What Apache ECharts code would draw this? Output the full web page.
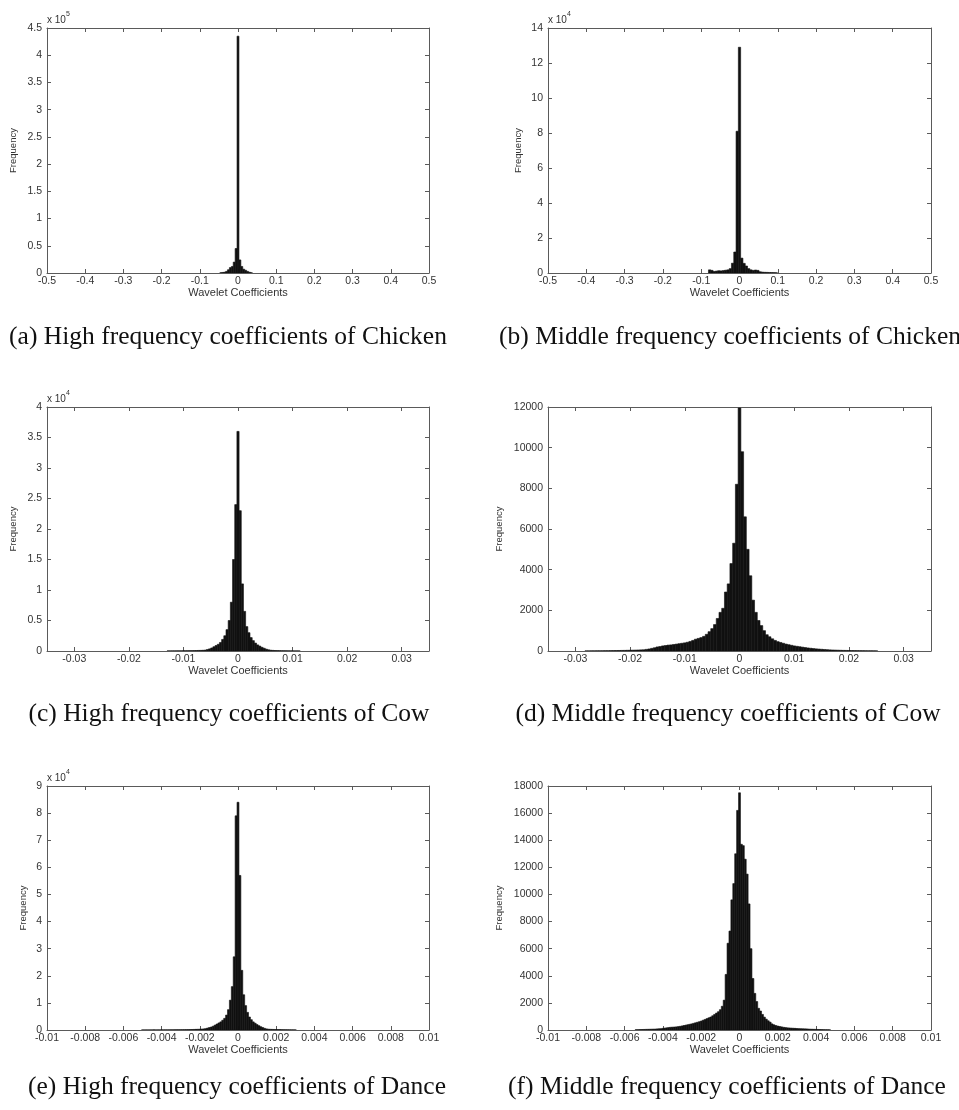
<!DOCTYPE html>
<html>
<head>
<meta charset="utf-8">
<title>Wavelet coefficient histograms</title>
<script src="https://cdn.jsdelivr.net/npm/echarts@6/dist/echarts.min.js"></script>
<style>
  html, body { margin: 0; padding: 0; background: #ffffff; }
  #chart { width: 959px; height: 1110px; }
</style>
</head>
<body>
<div id="chart"></div>
<script>
// ---- Tick values ----
const xTicksChicken = [-0.5, -0.4, -0.3, -0.2, -0.1, 0, 0.1, 0.2, 0.3, 0.4, 0.5];
const xTicksCow = [-0.03, -0.02, -0.01, 0, 0.01, 0.02, 0.03];
const xTicksDance = [-0.01, -0.008, -0.006, -0.004, -0.002, 0, 0.002, 0.004, 0.006, 0.008, 0.01];

const yTicksChickenHigh = [0, 0.5, 1, 1.5, 2, 2.5, 3, 3.5, 4, 4.5];   // x 10^5
const yTicksChickenMid = [0, 2, 4, 6, 8, 10, 12, 14];                  // x 10^4
const yTicksCowHigh = [0, 0.5, 1, 1.5, 2, 2.5, 3, 3.5, 4];             // x 10^4
const yTicksCowMid = [0, 2000, 4000, 6000, 8000, 10000, 12000];
const yTicksDanceHigh = [0, 1, 2, 3, 4, 5, 6, 7, 8, 9];                // x 10^4
const yTicksDanceMid = [0, 2000, 4000, 6000, 8000, 10000, 12000, 14000, 16000, 18000];

// ---- Histogram counts (first bin centre, bin width, counts per bin) ----
// (a) Chicken, high frequency
const chickenHighStart = -0.045;
const chickenHighBin = 0.005;
const chickenHighCounts = [500, 1000, 1500, 3000, 6000, 10000, 12000, 20000, 45000,
  435000, 24000, 12000, 7000, 5000, 3000, 1500, 500];

// (b) Chicken, middle frequency
const chickenMidStart = -0.078;
const chickenMidBin = 0.006;
const chickenMidCounts = [1800, 1500, 900, 1100, 1300, 1200, 1400, 1600, 1800, 2500, 5600, 12000, 81000,
  129000, 8500, 5500, 4000, 2500, 1800, 1500, 1700, 1500, 700, 500, 400, 350, 300, 250, 200, 150];

// (c) Cow, high frequency
const cowHighStart = -0.0128;
const cowHighBin = 0.0004;
const cowHighCounts = [20, 20, 25, 25, 30, 30, 35, 40, 45, 50, 55, 60, 70, 80, 90, 100,
  120, 150, 250, 350, 500, 700, 900, 1100, 1400, 1900, 2500, 3500, 5000, 8000, 15000, 24000,
  36000,
  23000, 11000, 6500, 4000, 3000, 2200, 1700, 1300, 1000, 800, 600, 450, 300, 200,
  130, 100, 80, 70, 60, 50, 45, 40, 35, 30, 25, 20, 20, 15];

// (d) Cow, middle frequency
const cowMidStart = -0.028;
const cowMidBin = 0.0005;
const cowMidCounts = [5, 5, 8, 8, 10, 10, 12, 15, 15, 18, 20, 22, 25, 28, 30, 35, 38, 42, 46, 50, 55,
  60, 80, 100, 130, 160, 200, 220, 250, 270, 290, 300, 320, 340, 360, 380, 400, 430, 470, 520, 580,
  620, 660, 720, 820, 950, 1100, 1300, 1600, 1900, 2100, 2900, 3300, 4300, 5300, 8200,
  11950,
  9800, 6600, 5000, 3700, 2500, 1900, 1500, 1250, 1000, 800, 700, 600, 520, 460, 420, 380, 340,
  310, 280, 250, 230, 210, 190, 170, 150, 135, 120, 105, 95, 85, 75, 65, 55, 50, 45, 40, 35, 30,
  28, 25, 22, 20, 18, 16, 14, 12, 10, 10, 8, 6];

// (e) Dance, high frequency
const danceHighStart = -0.005;
const danceHighBin = 0.0001;
const danceHighCounts = [30, 30, 40, 30, 40, 40, 50, 40, 50, 50, 60, 60, 70, 60, 70, 80, 80, 90,
  100, 100, 110, 120, 130, 140, 150, 170, 190, 210, 240, 270, 300, 350, 400,
  500, 700, 900, 1100, 1400, 1800, 2200, 2600, 3000, 3600, 4300, 5500, 7500, 11000, 16000, 27000, 79000,
  84000,
  57000, 22000, 13000, 9000, 6500, 4800, 3800, 3000, 2500, 2000, 1600, 1200, 900, 600, 400, 300, 250,
  220, 200, 180, 160, 140, 120, 110, 100, 90, 80, 70, 60, 50];

// (f) Dance, middle frequency
const danceMidStart = -0.0054;
const danceMidBin = 0.0001;
const danceMidCounts = [20, 25, 30, 35, 40, 45, 50, 55, 60, 65, 70, 80, 90, 100, 120, 140, 160, 180,
  200, 210, 220, 230, 250, 270,
  300, 330, 360, 390, 420, 450, 490, 530, 570, 610, 660, 720, 780, 840, 900, 960, 1050, 1150,
  1250, 1350, 1500, 1750, 2200, 4100, 6400, 7300, 9600, 10800, 13000, 16200,
  17500,
  13700, 13600, 12600, 11500, 9300, 6000, 3800, 2700, 2100, 1600, 1400, 1150, 950, 800, 680, 580,
  450, 380, 330, 290, 260, 230, 200, 180, 160, 150, 140, 130, 120, 110, 100, 95, 90, 85, 80, 70,
  60, 55, 50, 45, 40, 35, 30, 25, 20, 20, 15];

// ---- Panel layout ----
const panels = [
  { grid: { left: 47, top: 28, width: 382, height: 245 }, range: [-0.5, 0.5], xTicks: xTicksChicken,
    yTicks: yTicksChickenHigh, yScale: 1e5, exp: '5', yNameGap: 34,
    start: chickenHighStart, bin: chickenHighBin, counts: chickenHighCounts,
    caption: '(a) High frequency coefficients of Chicken', capX: 228, capY: 337 },
  { grid: { left: 548, top: 28, width: 383, height: 245 }, range: [-0.5, 0.5], xTicks: xTicksChicken,
    yTicks: yTicksChickenMid, yScale: 1e4, exp: '4', yNameGap: 30,
    start: chickenMidStart, bin: chickenMidBin, counts: chickenMidCounts,
    caption: '(b) Middle frequency coefficients of Chicken', capX: 730, capY: 337 },
  { grid: { left: 47, top: 407, width: 382, height: 244 }, range: [-0.035, 0.035], xTicks: xTicksCow,
    yTicks: yTicksCowHigh, yScale: 1e4, exp: '4', yNameGap: 34,
    start: cowHighStart, bin: cowHighBin, counts: cowHighCounts,
    caption: '(c) High frequency coefficients of Cow', capX: 229, capY: 714 },
  { grid: { left: 548, top: 407, width: 383, height: 244 }, range: [-0.035, 0.035], xTicks: xTicksCow,
    yTicks: yTicksCowMid, yScale: 1, exp: null, yNameGap: 49,
    start: cowMidStart, bin: cowMidBin, counts: cowMidCounts,
    caption: '(d) Middle frequency coefficients of Cow', capX: 728, capY: 714 },
  { grid: { left: 47, top: 786, width: 382, height: 244 }, range: [-0.01, 0.01], xTicks: xTicksDance,
    yTicks: yTicksDanceHigh, yScale: 1e4, exp: '4', yNameGap: 24,
    start: danceHighStart, bin: danceHighBin, counts: danceHighCounts,
    caption: '(e) High frequency coefficients of Dance', capX: 237, capY: 1087 },
  { grid: { left: 548, top: 786, width: 383, height: 244 }, range: [-0.01, 0.01], xTicks: xTicksDance,
    yTicks: yTicksDanceMid, yScale: 1, exp: null, yNameGap: 49,
    start: danceMidStart, bin: danceMidBin, counts: danceMidCounts,
    caption: '(f) Middle frequency coefficients of Dance', capX: 727, capY: 1087 }
];

const FRAME = '#5a5a5a';
const LABEL = '#333333';
const SANS = '"Liberation Sans", Arial, sans-serif';

function fmt(v) {
  return String(Math.round(v * 1e6) / 1e6);
}

const grids = [], xAxes = [], yAxes = [], series = [], graphics = [];

panels.forEach((p, i) => {
  grids.push(Object.assign({ containLabel: false }, p.grid));
  const yMax = p.yTicks[p.yTicks.length - 1] * p.yScale;
  const yVals = p.yTicks.map(t => t * p.yScale);
  const tickStyle = { show: true, inside: true, length: 4, lineStyle: { color: FRAME, width: 1 } };
  const lineStyle = { show: true, onZero: false, lineStyle: { color: FRAME, width: 1 } };

  // bottom x axis (labels) and top x axis (frame + ticks)
  xAxes.push({
    type: 'value', gridIndex: i, position: 'bottom', min: p.range[0], max: p.range[1],
    axisLine: lineStyle,
    axisTick: Object.assign({ customValues: p.xTicks }, tickStyle),
    axisLabel: { customValues: p.xTicks, formatter: v => fmt(v), color: LABEL, fontFamily: SANS,
      fontSize: 10.5, margin: 3, showMinLabel: true, showMaxLabel: true, hideOverlap: false },
    splitLine: { show: false },
    name: 'Wavelet Coefficients', nameLocation: 'middle', nameGap: 14,
    nameTextStyle: { color: LABEL, fontFamily: SANS, fontSize: 11 }
  });
  xAxes.push({
    type: 'value', gridIndex: i, position: 'top', min: p.range[0], max: p.range[1],
    axisLine: lineStyle,
    axisTick: Object.assign({ customValues: p.xTicks }, tickStyle),
    axisLabel: { show: false }, splitLine: { show: false }
  });

  // left y axis (labels) and right y axis (frame + ticks)
  yAxes.push({
    type: 'value', gridIndex: i, position: 'left', min: 0, max: yMax,
    axisLine: lineStyle,
    axisTick: Object.assign({ customValues: yVals }, tickStyle),
    axisLabel: { customValues: yVals, formatter: v => fmt(v / p.yScale), color: LABEL, fontFamily: SANS,
      fontSize: 10.5, margin: 5, showMinLabel: true, showMaxLabel: true, hideOverlap: false },
    splitLine: { show: false }
  });
  yAxes.push({
    type: 'value', gridIndex: i, position: 'right', min: 0, max: yMax,
    axisLine: lineStyle,
    axisTick: Object.assign({ customValues: yVals }, tickStyle),
    axisLabel: { show: false }, splitLine: { show: false }
  });

  // "Frequency" label, centred at a fixed distance left of the plot
  graphics.push({
    type: 'text', rotation: Math.PI / 2,
    x: p.grid.left - p.yNameGap, y: p.grid.top + p.grid.height / 2,
    style: { text: 'Frequency', font: '9.5px ' + SANS, fill: LABEL, align: 'center', verticalAlign: 'middle' }
  });

  // exponent marker above the y axis
  if (p.exp) {
    graphics.push({
      type: 'text', x: p.grid.left, y: p.grid.top - 3,
      style: {
        text: '{b|x 10}{s|' + p.exp + '}',
        rich: {
          b: { fontFamily: SANS, fontSize: 10, fill: LABEL, lineHeight: 14, verticalAlign: 'bottom' },
          s: { fontFamily: SANS, fontSize: 7, fill: LABEL, lineHeight: 14, verticalAlign: 'top' }
        },
        align: 'left', verticalAlign: 'bottom'
      }
    });
  }

  // caption
  graphics.push({
    type: 'text', x: p.capX, y: p.capY,
    style: { text: p.caption, font: '25.5px "Liberation Serif", "Times New Roman", serif',
      fill: '#111111', align: 'center', verticalAlign: 'middle' }
  });

  // histogram bins
  const data = p.counts.map((n, k) => {
    const c = p.start + k * p.bin;
    return [c - p.bin / 2, c + p.bin / 2, n];
  });
  series.push({
    type: 'custom', xAxisIndex: 2 * i, yAxisIndex: 2 * i, clip: true,
    encode: { x: [0, 1], y: 2 },
    data: data,
    renderItem: (params, api) => {
      const a = api.coord([api.value(0), api.value(2)]);
      const b = api.coord([api.value(1), 0]);
      return {
        type: 'rect',
        shape: { x: a[0], y: a[1], width: b[0] - a[0], height: b[1] - a[1] },
        style: { fill: '#111111', stroke: '#111111', lineWidth: 0.6 }
      };
    }
  });
});

const chart = echarts.init(document.getElementById('chart'), null, { renderer: 'canvas' });
chart.setOption({
  backgroundColor: '#ffffff',
  animation: false,
  grid: grids,
  xAxis: xAxes,
  yAxis: yAxes,
  series: series,
  graphic: graphics
});
</script>
</body>
</html>
